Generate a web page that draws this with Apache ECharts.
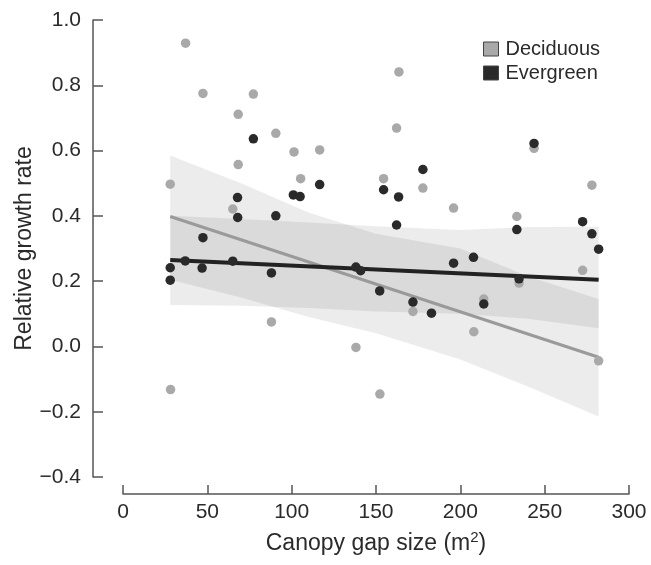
<!DOCTYPE html>
<html>
<head>
<meta charset="utf-8">
<script src="https://cdn.jsdelivr.net/npm/echarts@6/dist/echarts.min.js"></script>
<style>
  html, body { margin: 0; padding: 0; background: #fff; }
  #chart { width: 651px; height: 565px; }
</style>
</head>
<body>
<div id="chart"></div>
<script>
// x ticks / y ticks
const xTicks = [0, 50, 100, 150, 200, 250, 300];
const yTicks = [-0.4, -0.2, 0.0, 0.2, 0.4, 0.6, 0.8, 1.0];

// Deciduous points (gap size, growth rate)
const decidX = [28.0, 28.2, 37.1, 47.4, 65.1, 68.3, 68.3, 77.3, 88.0, 90.6, 101.4, 105.3, 116.6, 138.1, 152.3,
  154.5, 162.2, 163.6, 171.9, 177.8, 196.0, 208.0, 213.9, 233.5, 234.8, 243.7, 272.5, 278.0, 282.0];
const decidY = [0.497, -0.132, 0.929, 0.775, 0.421, 0.711, 0.557, 0.773, 0.075, 0.653, 0.596, 0.514, 0.602, -0.003, -0.146,
  0.514, 0.669, 0.841, 0.107, 0.485, 0.424, 0.045, 0.145, 0.398, 0.194, 0.607, 0.233, 0.494, -0.044];

// Evergreen points
const everX = [28.0, 28.0, 36.9, 46.9, 47.4, 65.1, 67.9, 68.0, 77.3, 88.0, 90.6, 101.0, 105.0, 116.6, 138.1, 140.9,
  152.2, 154.5, 162.2, 163.4, 171.9, 177.8, 182.9, 196.0, 207.8, 213.9, 233.5, 234.8, 243.7, 272.5, 278.0, 282.0];
const everY = [0.241, 0.203, 0.262, 0.240, 0.333, 0.261, 0.456, 0.395, 0.636, 0.225, 0.400, 0.464, 0.459, 0.496, 0.243, 0.232,
  0.170, 0.480, 0.372, 0.458, 0.136, 0.542, 0.102, 0.255, 0.273, 0.130, 0.358, 0.207, 0.622, 0.382, 0.345, 0.298];

// fitted lines (end points)
const fitX = [28, 282];
const decidFit = [0.398, -0.033];
const everFit = [0.265, 0.204];

// confidence bands
const bandX = [28, 70, 110, 150, 200, 240, 282];
const decidUpper = [0.585, 0.50, 0.41, 0.345, 0.30, 0.215, 0.145];
const decidLower = [0.204, 0.15, 0.09, 0.04, -0.04, -0.123, -0.215];
const everUpper = [0.40, 0.39, 0.38, 0.368, 0.357, 0.366, 0.367];
const everLower = [0.127, 0.125, 0.118, 0.107, 0.10, 0.085, 0.056];

const FONT = '"Liberation Sans", Arial, sans-serif';
const zip = (a, b) => a.map((v, i) => [v, b[i]]);

function band(name, upper, lower) {
  return {
    type: 'custom',
    name: name,
    silent: true,
    z: 1,
    data: [[bandX[0], upper[0]]],
    renderItem: function (params, api) {
      const pts = [];
      for (let i = 0; i < bandX.length; i++) pts.push(api.coord([bandX[i], upper[i]]));
      for (let i = bandX.length - 1; i >= 0; i--) pts.push(api.coord([bandX[i], lower[i]]));
      return {
        type: 'polygon',
        shape: { points: pts },
        style: { fill: 'rgba(0,0,0,0.075)' }
      };
    }
  };
}

const chart = echarts.init(document.getElementById('chart'));
chart.setOption({
  animation: false,
  backgroundColor: '#fff',
  textStyle: { fontFamily: FONT },
  grid: { left: 123, right: 22, top: 20, bottom: 88 },
  legend: {
    data: ['Deciduous', 'Evergreen'],
    orient: 'vertical',
    left: 478,
    top: 34,
    icon: 'rect',
    itemWidth: 15,
    itemHeight: 14,
    itemGap: 4,
    itemStyle: { borderColor: '#444', borderWidth: 1 },
    textStyle: { fontSize: 20, color: '#2a2a2a', fontFamily: FONT, padding: [0, 0, 0, 2] }
  },
  xAxis: {
    type: 'value',
    min: xTicks[0],
    max: xTicks[xTicks.length - 1],
    interval: 50,
    offset: 17,
    splitLine: { show: false },
    axisLine: { show: true, onZero: false, lineStyle: { color: '#555', width: 1.5 } },
    axisTick: { show: true, inside: true, length: 9, lineStyle: { color: '#555', width: 1.5 } },
    axisLabel: { fontSize: 21, color: '#2a2a2a', margin: 8, fontFamily: FONT },
    name: 'Canopy gap size (m{sup|2})',
    nameLocation: 'middle',
    nameGap: 36,
    nameMoveOverlap: false,
    nameTextStyle: {
      fontSize: 23, color: '#2a2a2a', fontFamily: FONT, lineHeight: 28,
      rich: { sup: { fontSize: 15, color: '#2a2a2a', fontFamily: FONT, verticalAlign: 'top', lineHeight: 15, padding: [0, 0, 12, 0] } }
    }
  },
  yAxis: {
    type: 'value',
    min: yTicks[0],
    max: yTicks[yTicks.length - 1],
    interval: 0.2,
    offset: 30,
    splitLine: { show: false },
    axisLine: { show: true, onZero: false, lineStyle: { color: '#555', width: 1.5 } },
    axisTick: { show: true, inside: true, length: 10, lineStyle: { color: '#555', width: 1.5 } },
    axisLabel: {
      fontSize: 21, color: '#2a2a2a', margin: 12, fontFamily: FONT,
      formatter: v => (Math.abs(v) < 1e-9 ? '0.0' : v.toFixed(1).replace('-', '\u2212'))
    },
    name: 'Relative growth rate',
    nameLocation: 'middle',
    nameGap: 57,
    nameMoveOverlap: false,
    nameTextStyle: { fontSize: 23, color: '#2a2a2a', fontFamily: FONT }
  },
  series: [
    band('Deciduous CI', decidUpper, decidLower),
    band('Evergreen CI', everUpper, everLower),
    {
      type: 'line', name: 'Deciduous fit', z: 2, showSymbol: false, silent: true,
      data: zip(fitX, decidFit),
      lineStyle: { color: '#9a9a9a', width: 3 }
    },
    {
      type: 'line', name: 'Evergreen fit', z: 2, showSymbol: false, silent: true,
      data: zip(fitX, everFit),
      lineStyle: { color: '#222', width: 4 }
    },
    {
      type: 'scatter', name: 'Deciduous', z: 3, symbolSize: 9.5,
      data: zip(decidX, decidY),
      itemStyle: { color: '#a9a9a9', opacity: 1 }
    },
    {
      type: 'scatter', name: 'Evergreen', z: 4, symbolSize: 9.5,
      data: zip(everX, everY),
      itemStyle: { color: '#2a2a2a', opacity: 1 }
    }
  ]
});
</script>
</body>
</html>
